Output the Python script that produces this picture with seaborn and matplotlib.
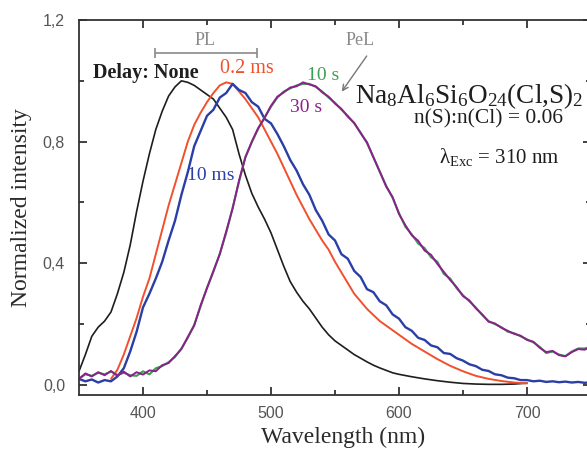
import matplotlib
matplotlib.use("Agg")
import matplotlib.pyplot as plt
import seaborn as sns

# ---------------- data ----------------
black_x = [350, 355, 360, 365, 370, 375, 380, 385, 390, 395, 400, 405, 410, 415, 420,
           425, 430, 435, 440, 445, 450, 455, 460, 465, 470, 475, 480, 485, 490, 495,
           500, 505, 510, 515, 520, 525, 530, 535, 540, 545, 550, 555, 560, 565, 570,
           575, 580, 585, 590, 595, 600, 610, 620, 630, 640, 650, 660, 670, 680, 690, 700]
black_y = [0.045, 0.10, 0.16, 0.19, 0.21, 0.24, 0.30, 0.37, 0.46, 0.57, 0.67, 0.76, 0.84, 0.90, 0.95,
           0.98, 1.00, 0.995, 0.985, 0.97, 0.955, 0.94, 0.91, 0.88, 0.84, 0.76, 0.69, 0.63, 0.585, 0.545,
           0.50, 0.445, 0.39, 0.34, 0.305, 0.275, 0.25, 0.22, 0.19, 0.165, 0.145, 0.13, 0.115, 0.10, 0.088,
           0.076, 0.065, 0.056, 0.048, 0.04, 0.035, 0.027, 0.02, 0.014, 0.009, 0.005, 0.003, 0.002, 0.002, 0.003, 0.006]

red_x = [375, 380, 385, 390, 395, 400, 405, 410, 415, 420, 425, 430, 435, 440, 445,
         450, 455, 460, 465, 470, 475, 480, 485, 490, 495, 500, 505, 510, 515, 520,
         525, 530, 535, 540, 545, 550, 555, 560, 565, 570, 575, 580, 585, 590, 595,
         600, 610, 620, 630, 640, 650, 660, 670, 680, 690, 700]
red_y = [0.02, 0.05, 0.10, 0.16, 0.22, 0.29, 0.35, 0.43, 0.51, 0.59, 0.66, 0.73, 0.80, 0.855, 0.895,
         0.93, 0.96, 0.985, 0.995, 0.99, 0.965, 0.94, 0.91, 0.88, 0.84, 0.80, 0.76, 0.715, 0.67, 0.625,
         0.585, 0.545, 0.51, 0.475, 0.445, 0.405, 0.37, 0.335, 0.30, 0.275, 0.25, 0.23, 0.21, 0.195, 0.18,
         0.165, 0.135, 0.11, 0.085, 0.063, 0.045, 0.03, 0.02, 0.013, 0.008, 0.005]

blue_x = [350, 355, 360, 365, 370, 375, 380, 385, 390, 395, 400, 405, 410, 415, 420,
          425, 430, 435, 440, 445, 450, 455, 460, 465, 470, 475, 480, 485, 490, 495,
          500, 505, 510, 515, 520, 525, 530, 535, 540, 545, 550, 555, 560, 565, 570,
          575, 580, 585, 590, 595, 600, 605, 610, 615, 620, 625, 630, 635, 640, 645,
          650, 655, 660, 665, 670, 675, 680, 685, 690, 695, 700, 705, 710, 715, 720,
          725, 730, 735, 740, 745, 750]
blue_y = [0.02, 0.012, 0.018, 0.008, 0.016, 0.012, 0.028, 0.055, 0.11, 0.175, 0.255, 0.30, 0.35, 0.405, 0.475,
          0.54, 0.625, 0.70, 0.785, 0.835, 0.885, 0.905, 0.945, 0.96, 0.99, 0.97, 0.96, 0.93, 0.915, 0.875,
          0.86, 0.825, 0.785, 0.74, 0.705, 0.66, 0.625, 0.575, 0.54, 0.495, 0.475, 0.43, 0.415, 0.375, 0.355,
          0.315, 0.305, 0.275, 0.262, 0.232, 0.218, 0.19, 0.178, 0.155, 0.148, 0.13, 0.124, 0.105, 0.102, 0.088,
          0.08, 0.068, 0.062, 0.05, 0.046, 0.035, 0.032, 0.024, 0.022, 0.016, 0.016, 0.012, 0.014, 0.01, 0.012,
          0.009, 0.011, 0.008, 0.01, 0.007, 0.009]

pel_x = [350, 355, 360, 365, 370, 375, 380, 385, 390, 395, 400, 405, 410, 415, 420,
         425, 430, 435, 440, 445, 450, 455, 460, 465, 470, 475, 480, 485, 490, 495,
         500, 505, 510, 515, 520, 525, 530, 535, 540, 545, 550, 555, 560, 565, 570,
         575, 580, 585, 590, 595, 600, 605, 610, 615, 620, 625, 630, 635, 640, 645,
         650, 655, 660, 665, 670, 675, 680, 685, 690, 695, 700, 705, 710, 715, 720,
         725, 730, 735, 740, 745, 750]
purple_y = [0.02, 0.038, 0.028, 0.042, 0.032, 0.046, 0.03, 0.044, 0.028, 0.042, 0.034, 0.048, 0.045, 0.065, 0.072,
            0.095, 0.118, 0.158, 0.195, 0.262, 0.318, 0.375, 0.43, 0.505, 0.58, 0.672, 0.748, 0.80, 0.845, 0.878,
            0.918, 0.948, 0.962, 0.978, 0.982, 0.995, 0.988, 0.982, 0.962, 0.948, 0.925, 0.908, 0.882, 0.862, 0.828,
            0.798, 0.748, 0.702, 0.652, 0.618, 0.562, 0.525, 0.492, 0.474, 0.442, 0.428, 0.398, 0.372, 0.345, 0.322,
            0.292, 0.278, 0.252, 0.232, 0.208, 0.202, 0.188, 0.178, 0.168, 0.162, 0.148, 0.142, 0.122, 0.108, 0.112,
            0.098, 0.094, 0.108, 0.118, 0.116, 0.125]
green_y = [0.02, 0.035, 0.03, 0.04, 0.035, 0.044, 0.033, 0.04, 0.032, 0.03, 0.045, 0.035, 0.055, 0.062, 0.075,
           0.092, 0.12, 0.155, 0.198, 0.258, 0.32, 0.372, 0.432, 0.5, 0.582, 0.668, 0.75, 0.798, 0.842, 0.88,
           0.915, 0.945, 0.965, 0.975, 0.985, 0.99, 0.99, 0.98, 0.965, 0.945, 0.928, 0.905, 0.885, 0.86, 0.83,
           0.795, 0.75, 0.70, 0.655, 0.615, 0.565, 0.52, 0.495, 0.465, 0.45, 0.42, 0.405, 0.365, 0.35, 0.318,
           0.295, 0.275, 0.255, 0.23, 0.21, 0.2, 0.19, 0.175, 0.17, 0.16, 0.15, 0.14, 0.125, 0.105, 0.11,
           0.1, 0.095, 0.11, 0.12, 0.12, 0.125]

x_major = [400, 500, 600, 700]
x_minor = [450, 550, 650]
y_major = [0.0, 0.4, 0.8, 1.2]
y_major_labels = ["0,0", "0,4", "0,8", "1,2"]
y_minor = [0.2, 0.6, 1.0]

# ---------------- style ----------------
sns.set_style("ticks")
plt.rcParams['font.family'] = ['Liberation Serif', 'DejaVu Serif']
plt.rcParams['mathtext.fontset'] = 'custom'
plt.rcParams['mathtext.rm'] = 'Liberation Serif'
plt.rcParams['mathtext.it'] = 'Liberation Serif:italic'
plt.rcParams['mathtext.bf'] = 'Liberation Serif:bold'

C_BLACK = "#1e1e1e"
C_RED = "#f0502c"
C_BLUE = "#2a3ea6"
C_PURPLE = "#8c1f8c"
C_GREEN = "#3aa152"
C_GRAY = "#8a8a8a"

fig = plt.figure(figsize=(5.87, 4.55), dpi=100)
ax = fig.add_axes([79 / 587, 60 / 455, 512 / 587, 375 / 455])

sns.lineplot(x=black_x, y=black_y, color=C_BLACK, lw=1.2, ax=ax)
sns.lineplot(x=red_x, y=red_y, color=C_RED, lw=1.4, ax=ax)
sns.lineplot(x=blue_x, y=blue_y, color=C_BLUE, lw=1.7, ax=ax)
sns.lineplot(x=pel_x, y=green_y, color=C_GREEN, lw=1.5, ax=ax)
sns.lineplot(x=pel_x, y=purple_y, color=C_PURPLE, lw=1.4, ax=ax)

ax.set_xlim(350, 750)
ax.set_ylim(-0.033, 1.2)
ax.set_xticks(x_major)
ax.set_xticks(x_minor, minor=True)
ax.set_yticks(y_major)
ax.set_yticklabels(y_major_labels)
ax.set_yticks(y_minor, minor=True)
ax.tick_params(which='both', direction='in', top=True, right=True,
               width=1.3, color='#333333', labelsize=11.5, labelcolor='#555555')
ax.tick_params(which='major', length=5.5)
ax.tick_params(which='minor', length=3.5)
ax.tick_params(axis='x', pad=8)
ax.tick_params(axis='y', pad=10)
for lab in ax.get_xticklabels() + ax.get_yticklabels():
    lab.set_fontfamily('Liberation Sans')
for s in ax.spines.values():
    s.set_linewidth(1.3)
    s.set_color('#333333')

ax.set_xlabel("Wavelength (nm)", fontsize=17, color='#2a2a2a')
ax.set_ylabel("Normalized intensity", fontsize=17, color='#2a2a2a')
ax.xaxis.set_label_coords(0.515, -0.085)
ax.yaxis.set_label_coords(-0.092, 0.5)

# ---------------- annotations ----------------
ax.text(448.4, 1.134, "PL", color=C_GRAY, fontsize=13, ha='center', va='center')
ax.errorbar([449.2], [1.092], xerr=[39.8], color=C_GRAY, capsize=3.5, lw=1.2, capthick=1.2)
ax.text(569.5, 1.131, "PeL", color=C_GRAY, fontsize=13, ha='center', va='center')
ax.annotate("", xy=(554, 0.957), xytext=(576, 1.089),
            arrowprops=dict(arrowstyle='->', color='#777777', lw=1.0))

ax.text(361, 1.026, "Delay: None", color=C_BLACK, fontsize=14.5, fontweight='bold',
        ha='left', va='center')
ax.text(460, 1.04, "0.2 ms", color=C_RED, fontsize=14.5, ha='left', va='center')
ax.text(528, 1.016, "10 s", color=C_GREEN, fontsize=14, ha='left', va='center')
ax.text(515, 0.911, "30 s", color=C_PURPLE, fontsize=14, ha='left', va='center')
ax.text(434, 0.69, "10 ms", color=C_BLUE, fontsize=14, ha='left', va='center')

ax.text(565.6, 0.928, r"Na$_8$Al$_6$Si$_6$O$_{24}$(Cl,S)$_2$", color='#1e1e1e',
        fontsize=19.5, ha='left', va='baseline')
ax.text(670, 0.875, "n(S):n(Cl) = 0.06", color='#1e1e1e', fontsize=15.5,
        ha='center', va='center')
ax.text(678.5, 0.748, r"λ$_{\mathrm{Exc}}$ = 310 nm", color='#1e1e1e', fontsize=15,
        ha='center', va='center')

fig.savefig("out.png", dpi=100)
